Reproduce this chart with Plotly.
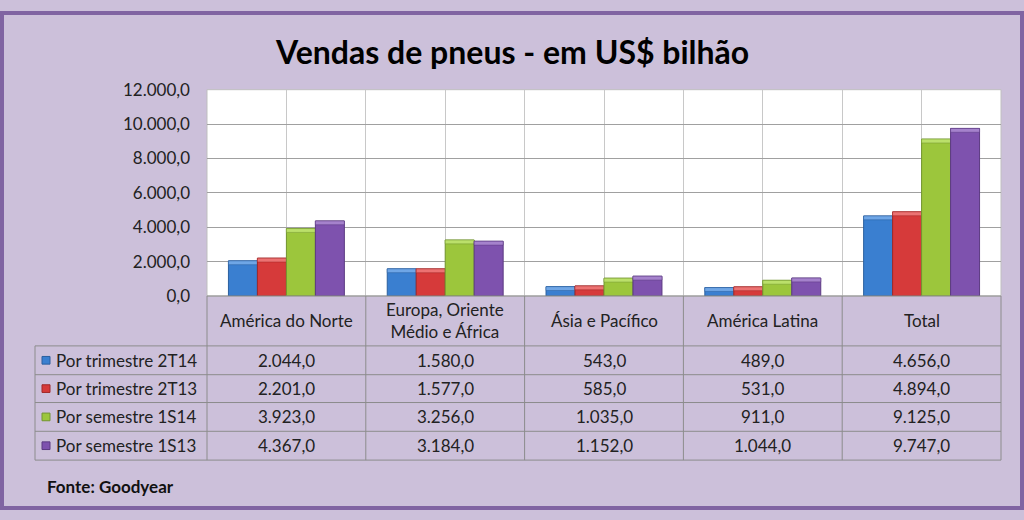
import plotly.graph_objects as go

categories = ["América do Norte", "Europa, Oriente<br>Médio e África", "Ásia e Pacífico", "América Latina", "Total"]
series_names = ["Por trimestre 2T14", "Por trimestre 2T13", "Por semestre 1S14", "Por semestre 1S13"]
v_2t14 = [2044.0, 1580.0, 543.0, 489.0, 4656.0]
v_2t13 = [2201.0, 1577.0, 585.0, 531.0, 4894.0]
v_1s14 = [3923.0, 3256.0, 1035.0, 911.0, 9125.0]
v_1s13 = [4367.0, 3184.0, 1152.0, 1044.0, 9747.0]
series_values = [v_2t14, v_2t13, v_1s14, v_1s13]
colors = ["#3A7FD0", "#D63A3A", "#9CC63C", "#7E52AE"]
cap_colors = ["#6FA6E6", "#EC7272", "#BBE06A", "#A582CC"]
edge_colors = ["#2A5F9E", "#A02828", "#739530", "#5C3A82"]
y_ticks = [0, 2000, 4000, 6000, 8000, 10000, 12000]

W, H = 1024, 520
FONT = "Lato"
def px(x): return x / W
def py(y): return 1 - y / H

def fmt(v):
    s = f"{v:,.1f}"
    return s.replace(",", "X").replace(".", ",").replace("X", ".")

xd = [px(207), px(1001)]
yd = [py(297), py(82)]
y_max = 12000
cap = 4 * y_max / (297 - 82)  # about 4 px of bevel highlight

fig = go.Figure()
xs = list(range(len(categories)))
for k, (name, vals, c, cc, ec) in enumerate(zip(series_names, series_values, colors, cap_colors, edge_colors)):
    fig.add_trace(go.Bar(x=xs, y=vals, name=name, offsetgroup=str(k),
                         marker=dict(color=c, line=dict(color=ec, width=1)), showlegend=False))
    fig.add_trace(go.Bar(x=xs, y=[cap] * len(vals), base=[v - cap for v in vals], offsetgroup=str(k),
                         marker=dict(color=cc, line=dict(color=ec, width=0.5)), showlegend=False,
                         hoverinfo="skip"))

shapes = []
annotations = []
shapes.append(dict(type="rect", xref="paper", yref="paper", x0=px(2), x1=px(1022), y0=py(518), y1=py(2),
                   line=dict(color="#8064A2", width=4), layer="below"))
shapes.append(dict(type="rect", xref="paper", yref="paper", x0=xd[0], x1=xd[1], y0=yd[0], y1=yd[1],
                   fillcolor="white", line=dict(color="#BFBFBF", width=1), layer="below"))

n = len(categories)
col_edges = [xd[0] + i * (xd[1] - xd[0]) / n for i in range(n + 1)]
row_edges_px = [297, 349, 379, 408, 438, 468]
left_px = 35
line_c = "#8C8C8C"
for i, ry in enumerate(row_edges_px):
    x0 = px(left_px) if i >= 1 else col_edges[0]
    shapes.append(dict(type="line", xref="paper", yref="paper", x0=x0, x1=col_edges[-1], y0=py(ry), y1=py(ry),
                       line=dict(color=line_c, width=1)))
for ce in col_edges:
    shapes.append(dict(type="line", xref="paper", yref="paper", x0=ce, x1=ce, y0=py(297), y1=py(468),
                       line=dict(color=line_c, width=1)))
shapes.append(dict(type="line", xref="paper", yref="paper", x0=px(left_px), x1=px(left_px), y0=py(349), y1=py(468),
                   line=dict(color=line_c, width=1)))

TS = 17
for i, cat in enumerate(categories):
    annotations.append(dict(xref="paper", yref="paper", x=(col_edges[i] + col_edges[i + 1]) / 2, y=py(323),
                            text=cat, showarrow=False, xanchor="center", yanchor="middle",
                            font=dict(family=FONT, size=TS, color="#222222")))
for r, (name, vals, c, ec) in enumerate(zip(series_names, series_values, colors, edge_colors)):
    yc = (row_edges_px[r + 1] + row_edges_px[r + 2]) / 2
    shapes.append(dict(type="rect", xref="paper", yref="paper", x0=px(42), x1=px(50), y0=py(yc + 4), y1=py(yc - 4),
                       fillcolor=c, line=dict(color=ec, width=1)))
    annotations.append(dict(xref="paper", yref="paper", x=px(54), y=py(yc), text=name, showarrow=False,
                            xanchor="left", yanchor="middle", font=dict(family=FONT, size=TS, color="#222222")))
    for i, v in enumerate(vals):
        annotations.append(dict(xref="paper", yref="paper", x=(col_edges[i] + col_edges[i + 1]) / 2, y=py(yc),
                                text=fmt(v), showarrow=False, xanchor="center", yanchor="middle",
                                font=dict(family=FONT, size=TS, color="#222222")))

annotations.append(dict(xref="paper", yref="paper", x=px(512), y=py(42), text="<b>Vendas de pneus - em US$ bilhão</b>",
                        showarrow=False, xanchor="center", yanchor="middle",
                        font=dict(family=FONT, size=32, color="black")))
annotations.append(dict(xref="paper", yref="paper", x=px(45), y=py(496), text="<b>Fonte: Goodyear</b>",
                        showarrow=False, xanchor="left", yanchor="middle",
                        font=dict(family=FONT, size=17, color="#111111")))

fig.update_layout(
    width=W, height=H, margin=dict(l=0, r=0, t=0, b=0),
    paper_bgcolor="#CCC0DA", plot_bgcolor="rgba(0,0,0,0)",
    barmode="group", bargap=0.27, bargroupgap=0,
    separators=",.",
    shapes=shapes, annotations=annotations,
    xaxis=dict(domain=xd, range=[-0.5, n - 0.5], tickmode="linear", tick0=-0.5, dtick=0.5,
               showticklabels=False, showgrid=True, gridcolor="#C8C8C8", gridwidth=1, zeroline=False,
               showline=False, fixedrange=True),
    yaxis=dict(domain=yd, range=[0, y_max], tickvals=y_ticks, tickformat=",.1f", showgrid=True,
               gridcolor="#A0A0A0", gridwidth=1, zeroline=False, showline=False,
               ticks="", ticklabelstandoff=16,
               tickfont=dict(family=FONT, size=17, color="#222222")),
)

fig.write_html("out.html")
